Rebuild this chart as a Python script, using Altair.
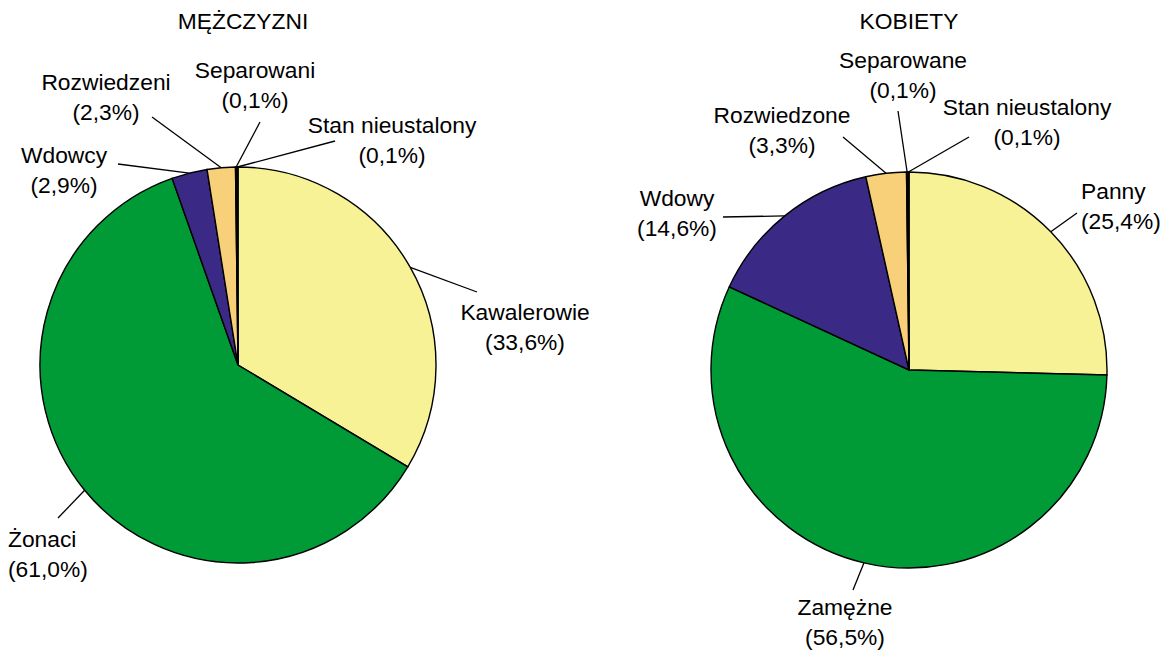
import math
import altair as alt
import pandas as pd

# ---------------- data ----------------
panel_ids = ["M", "K"]
panel_titles = ["MĘŻCZYZNI", "KOBIETY"]

categories_m = ["Kawalerowie", "Żonaci", "Wdowcy", "Rozwiedzeni", "Separowani", "Stan nieustalony"]
values_m = [33.6, 61.0, 2.9, 2.3, 0.1, 0.1]

categories_k = ["Panny", "Zamężne", "Wdowy", "Rozwiedzone", "Separowane", "Stan nieustalony"]
values_k = [25.4, 56.5, 14.6, 3.3, 0.1, 0.1]

status_keys = ["single", "married", "widowed", "divorced", "separated", "unknown"]

# ---------------- styles / layout ----------------
status_colors = ["#F8F296", "#009A36", "#3B2A85", "#F8D07A", "#000000", "#000000"]
FONT = "Liberation Sans"
FS = 22.8
LINE_GAP = 30
X0, Y0 = 8, 8             # page position of plot-area top-left
W, H = 1155, 635
R = 198                   # pie radius (px)
PIE_CENTER = {"M": (238, 365), "K": (909, 370)}   # page px
TITLE_POS = {"M": (243, 22), "K": (909, 22)}
# per slice: label x, first-line y, alignment, leader-line end x, y
LABEL_LAYOUT = {
    "M": [(525, 313, "center", 477, 292), (8, 540, "left", 58, 518), (64, 156, "center", 118, 164),
          (106, 83, "center", 152, 117), (255, 71, "center", 260, 122), (392, 126, "center", 335, 141)],
    "K": [(1081, 192, "left", 1077, 213), (845, 608, "center", 853, 590), (677, 199, "center", 723, 217),
          (782, 116, "center", 843, 137), (903, 61, "center", 898, 111), (1027, 108, "center", 969, 137)],
}

# ---------------- tables ----------------
series = {"M": (categories_m, values_m), "K": (categories_k, values_k)}
slice_rows, label_rows, leader_rows, title_rows = [], [], [], []
for pid, title in zip(panel_ids, panel_titles):
    cats, vals = series[pid]
    cx, cy = PIE_CENTER[pid]
    total = sum(vals)
    cum = 0.0
    for i, (c, v, k) in enumerate(zip(cats, vals, status_keys)):
        slice_rows.append({"pie": pid, "idx": i, "category": c, "key": k, "value": v})
        mid = (cum + v / 2) / total * 2 * math.pi
        cum += v
        lx, ly, al, ex, ey = LABEL_LAYOUT[pid][i]
        pct = "(" + f"{v:.1f}".replace(".", ",") + "%)"
        label_rows.append({"pie": pid, "name": c, "pct": pct, "x": lx, "y": ly, "align": al})
        leader_rows.append({"pie": pid, "x": cx + R * math.sin(mid), "y": cy - R * math.cos(mid),
                            "x2": ex, "y2": ey})
    tx, ty = TITLE_POS[pid]
    title_rows.append({"title": title, "x": tx, "y": ty})

slices = pd.DataFrame(slice_rows)
labels = pd.DataFrame(label_rows)
leaders = pd.DataFrame(leader_rows)
titles = pd.DataFrame(title_rows)

xs = alt.Scale(domain=[X0, X0 + W], nice=False, zero=False)
ys = alt.Scale(domain=[Y0, Y0 + H], nice=False, zero=False, reverse=True)
color = alt.Color("key:N", scale=alt.Scale(domain=status_keys, range=status_colors), legend=None)

layers = []
for pid in panel_ids:
    cx, cy = PIE_CENTER[pid]
    layers.append(
        alt.Chart(slices).transform_filter(alt.datum.pie == pid)
        .mark_arc(outerRadius=R, stroke="black", strokeWidth=1.4)
        .encode(
            theta=alt.Theta("value:Q", stack=True),
            order=alt.Order("idx:Q", sort="ascending"),
            color=color,
            x=alt.value(cx - X0),
            y=alt.value(cy - Y0),
        )
    )

rules = alt.Chart(leaders).mark_rule(color="black", strokeWidth=1.3).encode(
    x=alt.X("x:Q", scale=xs, axis=None),
    y=alt.Y("y:Q", scale=ys, axis=None),
    x2="x2:Q",
    y2="y2:Q",
)
layers.append(rules)

for al in ["center", "left"]:
    base = alt.Chart(labels).transform_filter(alt.datum.align == al)
    layers.append(base.mark_text(align=al, baseline="middle", font=FONT, fontSize=FS, color="black")
                  .encode(x=alt.X("x:Q", scale=xs, axis=None), y=alt.Y("y:Q", scale=ys, axis=None),
                          text="name:N"))
    layers.append(base.mark_text(align=al, baseline="middle", font=FONT, fontSize=FS, color="black",
                                 dy=LINE_GAP)
                  .encode(x=alt.X("x:Q", scale=xs, axis=None), y=alt.Y("y:Q", scale=ys, axis=None),
                          text="pct:N"))

layers.append(
    alt.Chart(titles).mark_text(align="center", baseline="middle", font=FONT, fontSize=FS, color="black")
    .encode(x=alt.X("x:Q", scale=xs, axis=None), y=alt.Y("y:Q", scale=ys, axis=None), text="title:N")
)

chart = (
    alt.layer(*layers)
    .properties(width=W, height=H, padding=0)
    .configure_view(stroke=None)
)

chart.save("out.html", embed_options={"renderer": "svg", "actions": False})
